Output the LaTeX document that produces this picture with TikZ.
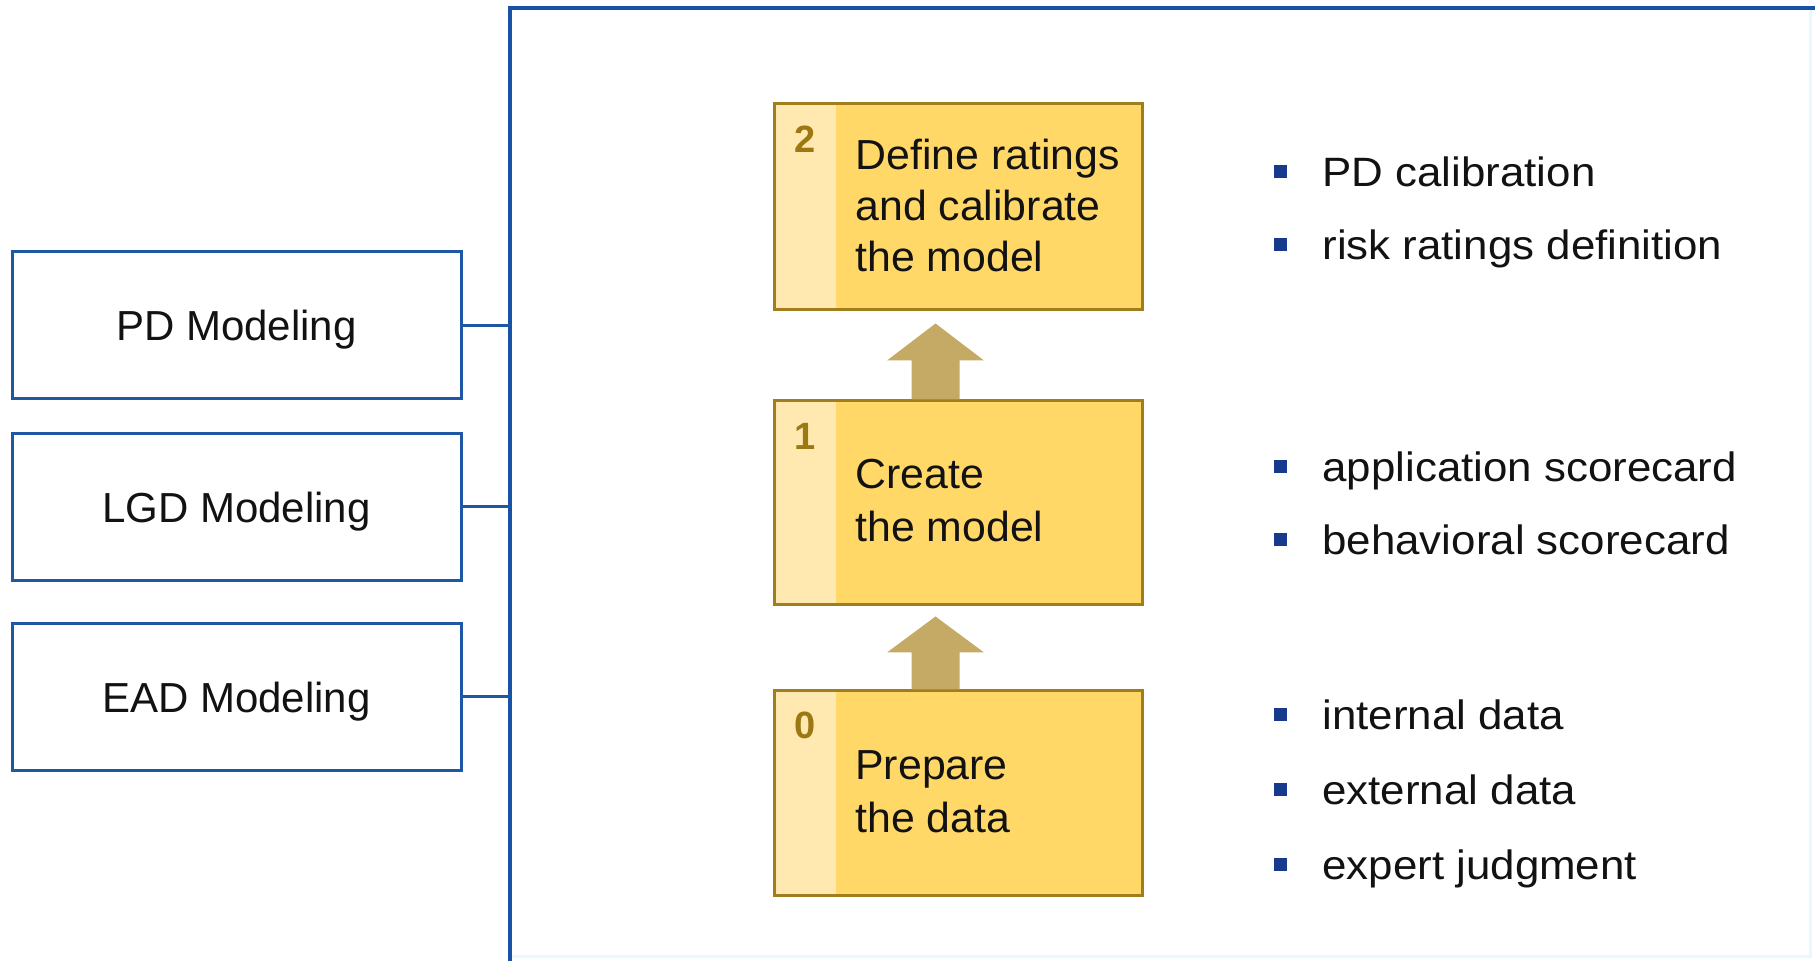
\documentclass[tikz,border=0pt]{standalone}
\usepackage{fontspec}
\setmainfont{Liberation Sans}
\newfontfamily\listfont[FakeStretch=1.07]{Liberation Sans}
\newfontfamily\boxfont[FakeStretch=1.02]{Liberation Sans}
\definecolor{frameblue}{RGB}{24,82,164}
\definecolor{boxblue}{RGB}{30,88,164}
\definecolor{yfill}{RGB}{255,216,104}
\definecolor{ystripe}{RGB}{255,233,176}
\definecolor{yborder}{RGB}{160,126,30}
\definecolor{numcol}{RGB}{156,120,18}
\definecolor{arrowcol}{RGB}{196,170,100}
\definecolor{bulletcol}{RGB}{24,58,140}
\definecolor{textcol}{RGB}{18,18,18}
\definecolor{faint}{RGB}{228,250,255}
\begin{document}
\begin{tikzpicture}[x=0.5pt,y=-0.5pt,
  lbox/.style={draw=boxblue, line width=1.5pt, fill=white, minimum width=224.5pt, minimum height=73.5pt,
    inner sep=0pt, text depth=0pt, text=textcol, font=\fontsize{21}{25}\selectfont},
  conn/.style={draw=boxblue, line width=1.5pt},
  frameline/.style={draw=frameblue, line width=2pt},
  ybox/.style={draw=yborder, line width=1.5pt, fill=yfill, minimum width=184pt, inner sep=0pt,
    path picture={\fill[ystripe] (path picture bounding box.north west) rectangle ([xshift=31pt]path picture bounding box.south west);}},
  numlabel/.style={text=numcol, font=\fontsize{19}{21}\selectfont\bfseries, inner sep=0pt, text depth=0pt},
  btext/.style={anchor=base west, inner sep=0pt, text=textcol, font=\boxfont\fontsize{21}{25}\selectfont},
  ltext/.style={anchor=base west, inner sep=0pt, text=textcol, font=\listfont\fontsize{20.5}{24}\selectfont},
  bullet/.style={fill=bulletcol, minimum size=6.5pt, inner sep=0pt},
  blockarrow/.style={fill=arrowcol}
]
\useasboundingbox (0,0) rectangle (1815,961);
\fill[white] (0,0) rectangle (1815,961);

% outer frame
\coordinate (ftl) at (510,8);
\coordinate (ftr) at (1815,8);
\coordinate (fbl) at (510,961);
\draw[faint, line width=1.5pt] (1810,10) -- (1810,956) -- (512,956);
\draw[frameline] (ftr) -- (ftl) -- (fbl);

% left boxes
\node[lbox] (pd) at (236.5,325.5) {PD Modeling};
\node[lbox] (lgd) at (236.5,507) {LGD Modeling};
\node[lbox] (ead) at (236.5,697) {EAD Modeling};
\draw[conn] (pd.east) -- (pd.east -| ftl);
\draw[conn] (lgd.east) -- (lgd.east -| ftl);
\draw[conn] (ead.east) -- (ead.east -| ftl);

% yellow step boxes
\node[ybox, minimum height=103pt] (b2) at (958,207) {};
\node[ybox, minimum height=102pt] (b1) at (958,503) {};
\node[ybox, minimum height=102pt] (b0) at (958,793) {};

\node[numlabel] (n2) at ([shift={(16.5pt,-18.5pt)}]b2.north west) {2};
\node[numlabel] (n1) at ([shift={(16.5pt,-18.5pt)}]b1.north west) {1};
\node[numlabel] (n0) at ([shift={(16.5pt,-18pt)}]b0.north west) {0};

\node[btext] (t2a) at (855,170) {Define ratings};
\node[btext] (t2b) at (855,221) {and calibrate};
\node[btext] (t2c) at (855,272) {the model};
\node[btext] (t1a) at (855,489) {Create};
\node[btext] (t1b) at (855,542) {the model};
\node[btext] (t0a) at (855,780) {Prepare};
\node[btext] (t0b) at (855,833) {the data};

% block arrows
\fill[blockarrow] ([xshift=-11.25pt]b1.north) ++(-24,0) -- ++(0,-39) -- ++(-24.5,0) -- ++(48.5,-37)
  -- ++(48.5,37) -- ++(-24.5,0) -- ++(0,39) -- cycle;
\fill[blockarrow] ([xshift=-11.25pt]b0.north) ++(-24,0) -- ++(0,-37) -- ++(-24.5,0) -- ++(48.5,-36)
  -- ++(48.5,36) -- ++(-24.5,0) -- ++(0,37) -- cycle;

% right lists
\node[bullet] (u1) at (1280,172) {};
\node[ltext] (l1) at (1322,187) {PD calibration};
\node[bullet] (u2) at (1280,245) {};
\node[ltext] (l2) at (1322,260) {risk ratings definition};
\node[bullet] (u3) at (1280,467) {};
\node[ltext] (l3) at (1322,482) {application scorecard};
\node[bullet] (u4) at (1280,540) {};
\node[ltext] (l4) at (1322,555) {behavioral scorecard};
\node[bullet] (u5) at (1280,715) {};
\node[ltext] (l5) at (1322,730) {internal data};
\node[bullet] (u6) at (1280,790) {};
\node[ltext] (l6) at (1322,805) {external data};
\node[bullet] (u7) at (1280,864) {};
\node[ltext] (l7) at (1322,879) {expert judgment};
\end{tikzpicture}
\end{document}
